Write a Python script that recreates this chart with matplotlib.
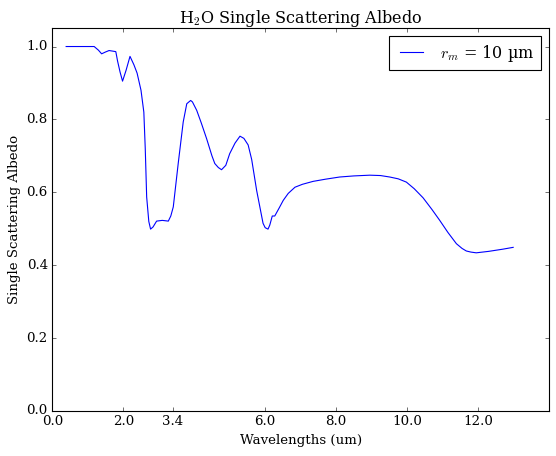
import numpy as np
import matplotlib
matplotlib.use('Agg')
import matplotlib.pyplot as plt

plt.style.use('classic')
plt.rcParams['font.family'] = 'serif'
plt.rcParams['font.serif'] = ['DejaVu Serif']
plt.rcParams['mathtext.fontset'] = 'cm'

# wavelength (um) and single scattering albedo
wavelength = [0.39, 1.18, 1.30, 1.39, 1.50, 1.60, 1.79, 1.84, 1.91, 1.98,
              2.08, 2.19, 2.30, 2.39, 2.50, 2.58, 2.62, 2.66, 2.72, 2.77,
              2.84, 2.94, 3.10, 3.27, 3.34, 3.41, 3.55, 3.69, 3.79, 3.85,
              3.90, 3.95, 4.07, 4.20, 4.35, 4.50, 4.58, 4.68, 4.77, 4.89,
              5.00, 5.15, 5.29, 5.40, 5.52, 5.62, 5.76, 5.85, 5.94, 6.00,
              6.08, 6.13, 6.20, 6.27, 6.40, 6.51, 6.65, 6.84, 7.05, 7.35,
              7.70, 8.10, 8.50, 8.95, 9.25, 9.51, 9.75, 9.98, 10.20, 10.45,
              10.70, 10.92, 11.15, 11.39, 11.55, 11.67, 11.80, 11.95, 12.30, 12.70,
              12.99]
albedo = [1.000, 1.000, 0.990, 0.980, 0.985, 0.989, 0.986, 0.960, 0.930, 0.905,
          0.935, 0.973, 0.950, 0.927, 0.880, 0.820, 0.720, 0.587, 0.520, 0.499,
          0.505, 0.521, 0.523, 0.521, 0.535, 0.560, 0.680, 0.793, 0.843, 0.848,
          0.852, 0.848, 0.825, 0.790, 0.747, 0.700, 0.679, 0.668, 0.662, 0.674,
          0.706, 0.735, 0.754, 0.748, 0.730, 0.690, 0.605, 0.560, 0.515, 0.503,
          0.499, 0.510, 0.535, 0.535, 0.558, 0.578, 0.597, 0.614, 0.622, 0.630,
          0.636, 0.642, 0.645, 0.647, 0.646, 0.642, 0.637, 0.628, 0.610, 0.585,
          0.553, 0.523, 0.490, 0.459, 0.446, 0.439, 0.436, 0.434, 0.438, 0.444,
          0.449]

xtick_pos = [0.0, 2.0, 3.4, 6.0, 8.0, 10.0, 12.0]
xtick_labels = ['0.0', '2.0', '3.4', '6.0', '8.0', '10.0', '12.0']

fig = plt.figure(figsize=(556 / 80, 456 / 80), dpi=80)
ax = fig.add_axes([52.3 / 556, 45 / 456, (549 - 52.3) / 556, (411 - 28.3) / 456])
ax.plot(wavelength, albedo, 'b-', label=r'$r_m$ = 10 µm')
ax.set_xlim(0, 14)
ax.set_ylim(0, 1.05)
ax.set_xticks(xtick_pos)
ax.set_xticklabels(xtick_labels)
ax.set_xlabel('Wavelengths (um)')
ax.set_ylabel('Single Scattering Albedo')
ax.set_title(r'H$_2$O Single Scattering Albedo')
ax.legend(loc='upper right', fontsize='large')

fig.savefig('out.png', dpi=80)
